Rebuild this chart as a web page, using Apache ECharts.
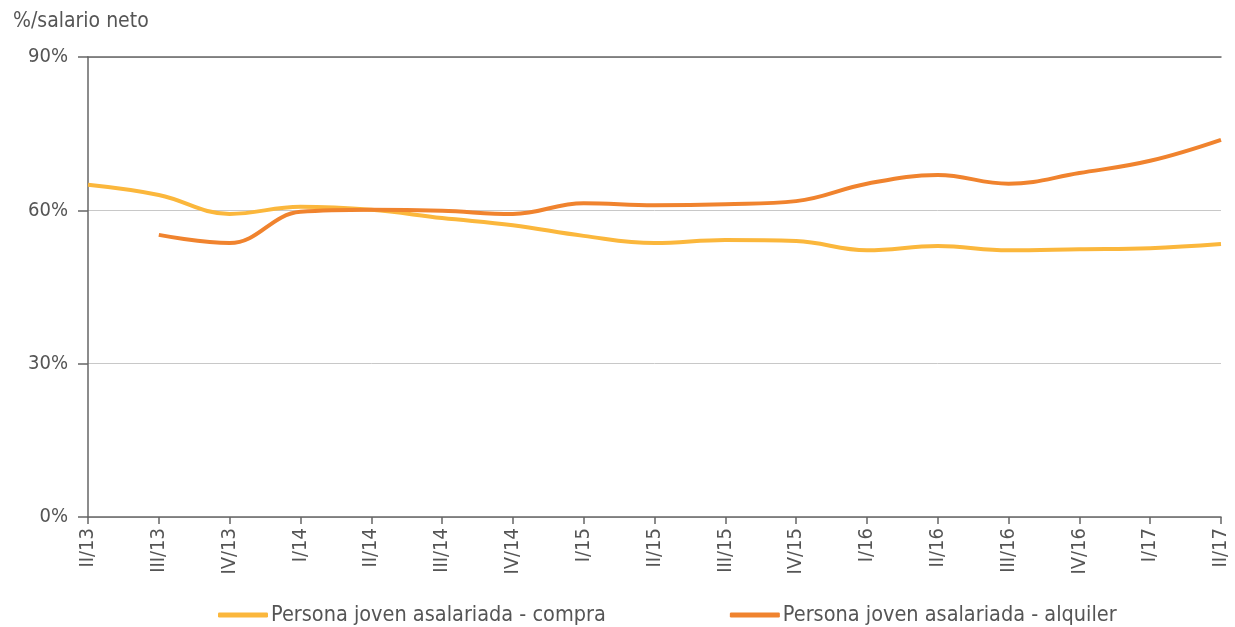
<!DOCTYPE html>
<html>
<head>
<meta charset="utf-8">
<script src="https://cdn.jsdelivr.net/npm/echarts@6/dist/echarts.min.js"></script>
<style>
html,body{margin:0;padding:0;background:#fff;}
#chart{width:1235px;height:627px;}
</style>
</head>
<body>
<div id="chart"></div>
<script>
// trimestres
var categorias = ['II/13','III/13','IV/13','I/14','II/14','III/14','IV/14','I/15','II/15','III/15','IV/15','I/16','II/16','III/16','IV/16','I/17','II/17'];
// % sobre salario neto
var compra = [65.0, 63.0, 59.3, 60.7, 60.1, 58.5, 57.1, 55.0, 53.6, 54.2, 54.0, 52.2, 53.0, 52.2, 52.4, 52.6, 53.4];
var alquiler = [null, 55.2, 53.6, 59.7, 60.1, 59.9, 59.3, 61.4, 61.0, 61.2, 61.8, 65.2, 66.9, 65.2, 67.3, 69.7, 73.8];
var nombres = ['Persona joven asalariada - compra', 'Persona joven asalariada - alquiler'];
var colores = ['#FBB73C', '#F0832E'];

var fuente = '"Liberation Sans Narrow", "DejaVu Sans Condensed", sans-serif';
var chart = echarts.init(document.getElementById('chart'));
var option = {
  animation: false,
  color: colores,
  textStyle: {fontFamily: fuente},
  title: {
    text: '%/salario neto',
    left: 8, top: 6,
    textStyle: {fontSize: 21, fontWeight: 'normal', color: '#555', fontFamily: fuente}
  },
  legend: {
    top: 599, left: 213,
    itemGap: 124,
    itemWidth: 50, itemHeight: 5,
    icon: 'roundRect',
    textStyle: {fontSize: 21.5, color: '#555', fontFamily: fuente, padding: [0, 0, 0, -2]},
    data: nombres
  },
  grid: {left: 88, right: 14, top: 57, bottom: 110, containLabel: false},
  xAxis: [{
    type: 'category',
    data: categorias,
    boundaryGap: false,
    axisLine: {lineStyle: {color: '#666', width: 1.5}},
    axisTick: {show: true, length: 7, lineStyle: {color: '#666', width: 1.5}},
    axisLabel: {rotate: 90, fontSize: 20, color: '#555', margin: 11, fontFamily: fuente}
  }, {
    type: 'category',
    data: categorias,
    position: 'top',
    boundaryGap: false,
    axisLine: {lineStyle: {color: '#666', width: 1.5}},
    axisTick: {show: false},
    axisLabel: {show: false}
  }],
  yAxis: {
    type: 'value',
    min: 0, max: 90, interval: 30,
    axisLine: {show: true, lineStyle: {color: '#666', width: 1.5}},
    axisTick: {show: true, length: 10, lineStyle: {color: '#666', width: 1.5}},
    axisLabel: {formatter: '{value}%', fontSize: 20, color: '#555', margin: 20, fontFamily: fuente},
    splitLine: {lineStyle: {color: '#c8c8c8', width: 1}}
  },
  series: [{
    name: nombres[0],
    type: 'line',
    data: compra,
    smooth: 0.4,
    symbol: 'none',
    lineStyle: {width: 4, color: colores[0]}
  }, {
    name: nombres[1],
    type: 'line',
    data: alquiler,
    smooth: 0.4,
    symbol: 'none',
    lineStyle: {width: 4, color: colores[1]}
  }]
};
chart.setOption(option);
</script>
</body>
</html>
